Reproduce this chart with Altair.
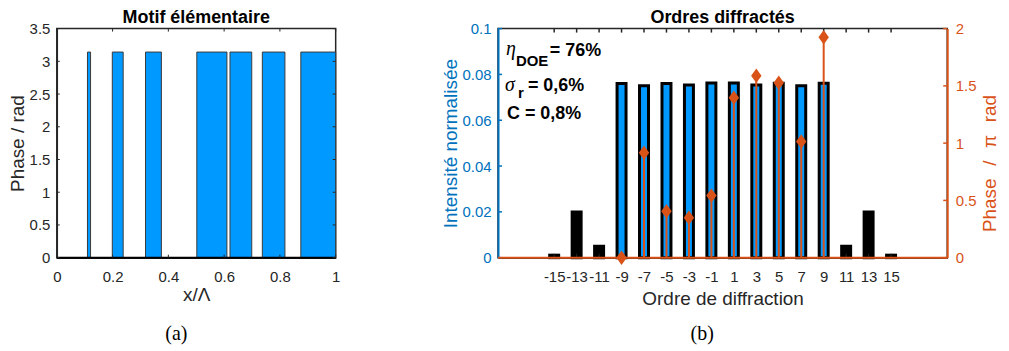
import altair as alt
import pandas as pd

# ---------- (a) Motif élémentaire ----------
seg_start = [0.110, 0.199, 0.318, 0.502, 0.621, 0.737, 0.875]
seg_end = [0.121, 0.238, 0.375, 0.610, 0.699, 0.818, 1.000]
seg_phase = [3.1416, 3.1416, 3.1416, 3.1416, 3.1416, 3.1416, 3.1416]
period_start = [0.0]
period_end = [1.0]
motif_x_ticks = [0, 0.2, 0.4, 0.6, 0.8, 1]
motif_y_ticks = [0, 0.5, 1, 1.5, 2, 2.5, 3, 3.5]

# ---------- (b) Ordres diffractés ----------
orders = [-15, -13, -11, -9, -7, -5, -3, -1, 1, 3, 5, 7, 9, 11, 13, 15]
intensity = [0.0011, 0.0199, 0.0050, 0.0760, 0.0751, 0.0760, 0.0754, 0.0763,
             0.0763, 0.0754, 0.0761, 0.0751, 0.0761, 0.0050, 0.0199, 0.0011]
phase_orders = [-9, -7, -5, -3, -1, 1, 3, 5, 7, 9]
phase_pi = [0.0, 0.916, 0.405, 0.348, 0.542, 1.397, 1.588, 1.527, 1.014, 1.924]
order_range = [-20, 20]
order_ticks = [-15, -13, -11, -9, -7, -5, -3, -1, 1, 3, 5, 7, 9, 11, 13, 15]
int_ticks = [0, 0.02, 0.04, 0.06, 0.08, 0.1]
phase_ticks = [0, 0.5, 1, 1.5, 2]

BLUE = "#0099FF"
C_INT = "#0072BD"
ORANGE = "#D95319"
AX = "#262626"
SANS = "Liberation Sans"
SERIF = "Liberation Serif"
DIAMOND = "M0,-1L0.72,0L0,1L-0.72,0Z"

# ================= panel (a) =================
W1, H1 = 280, 230
motif_df = pd.DataFrame({"x0": seg_start, "x1": seg_end, "phase": seg_phase})
motif_df["base"] = 0.0
xs1 = alt.Scale(domain=[0, 1], nice=False, zero=False)
ys1 = alt.Scale(domain=[0, 3.5], nice=False)
ax1x = alt.Axis(values=motif_x_ticks, title="x/Λ", format="~g", labelPadding=12, titlePadding=1)
ax1y = alt.Axis(values=motif_y_ticks, title="Phase / rad", format="~g", labelPadding=7, titlePadding=1.5)

bars1 = alt.Chart(motif_df).mark_rect(fill=BLUE, stroke="#3a3a3a", strokeWidth=1).encode(
    x=alt.X("x0:Q", scale=xs1, axis=ax1x), x2="x1",
    y=alt.Y("phase:Q", scale=ys1, axis=ax1y), y2="base")

zero_df = pd.DataFrame({"a": period_start, "b": period_end})
zero_df["y"] = 0.0
zero1 = alt.Chart(zero_df).mark_rule(color="black", strokeWidth=2).encode(
    x=alt.X("a:Q", scale=xs1, axis=ax1x), x2="b",
    y=alt.Y("y:Q", scale=ys1, axis=ax1y))

tx1 = pd.DataFrame({"v": motif_x_ticks})
ty1 = pd.DataFrame({"v": motif_y_ticks})
xt1b = alt.Chart(tx1).mark_rule(color=AX).encode(
    x=alt.X("v:Q", scale=xs1, axis=ax1x), y=alt.value(H1), y2=alt.value(H1 - 3))
xt1t = alt.Chart(tx1).mark_rule(color=AX).encode(
    x=alt.X("v:Q", scale=xs1, axis=ax1x), y=alt.value(0), y2=alt.value(3))
yt1l = alt.Chart(ty1).mark_rule(color=AX).encode(
    y=alt.Y("v:Q", scale=ys1, axis=ax1y), x=alt.value(0), x2=alt.value(3))
yt1r = alt.Chart(ty1).mark_rule(color=AX).encode(
    y=alt.Y("v:Q", scale=ys1, axis=ax1y), x=alt.value(W1), x2=alt.value(W1 - 3))


def txt(s, x, y, **kw):
    style = dict(font=SANS, fontSize=18, fontWeight="bold", color="black",
                 align="left", baseline="alphabetic")
    style.update(kw)
    return alt.Chart(pd.DataFrame({"t": [s]})).mark_text(**style).encode(
        text="t:N", x=alt.value(x), y=alt.value(y))


cap_a = txt("(a)", 120, 307, font=SERIF, fontSize=20, fontWeight="normal",
            align="center", baseline="middle")

left = alt.layer(bars1, zero1, xt1b, xt1t, yt1l, yt1r, cap_a).properties(
    width=W1, height=H1, title="Motif élémentaire")

# ================= panel (b) =================
W2, H2 = 451, 230
xs2 = alt.Scale(domain=order_range, nice=False, zero=False)
ys_int = alt.Scale(domain=[0, 0.1], nice=False)
ys_ph = alt.Scale(domain=[0, 2], nice=False)

ax2x = alt.Axis(values=order_ticks, labelExpr="'' + datum.value", title="Ordre de diffraction",
                labelPadding=12, titlePadding=5)
ax_int = alt.Axis(values=int_ticks, format="~g", title="Intensité normalisée", orient="left",
                  labelColor=C_INT, titleColor=C_INT, domainColor=C_INT, domainWidth=2,
                  labelPadding=7, titlePadding=1.5)
ax_ph = alt.Axis(values=phase_ticks, format="~g",
                 title="Phase\u2002\u2006/\u2002\u2006π\u2002\u2006rad", orient="right",
                 labelColor=ORANGE, titleColor=ORANGE, domainColor=ORANGE, domainWidth=2,
                 labelPadding=8, titlePadding=5, titleAngle=270, titleBaseline="top",
                 titleY=135)

int_df = pd.DataFrame({"order": orders, "I": intensity})
int_df["x0"] = int_df["order"] - 0.4
int_df["x1"] = int_df["order"] + 0.4
int_df["base"] = 0.0
int_df["kind"] = ["cible" if abs(o) <= 9 else "parasite" for o in orders]

bars2 = alt.Chart(int_df).mark_rect(stroke="black", strokeWidth=3).encode(
    x=alt.X("x0:Q", scale=xs2, axis=ax2x), x2="x1",
    y=alt.Y("I:Q", scale=ys_int, axis=ax_int), y2="base",
    fill=alt.Fill("kind:N", scale=alt.Scale(domain=["cible", "parasite"], range=[BLUE, "black"]),
                  legend=None))

tx2 = pd.DataFrame({"v": order_ticks})
ty2 = pd.DataFrame({"v": int_ticks})
ty3 = pd.DataFrame({"v": phase_ticks})
xt2b = alt.Chart(tx2).mark_rule(color=AX).encode(
    x=alt.X("v:Q", scale=xs2, axis=ax2x), y=alt.value(H2), y2=alt.value(H2 - 4))
xt2t = alt.Chart(tx2).mark_rule(color=AX, strokeWidth=1.5).encode(
    x=alt.X("v:Q", scale=xs2, axis=ax2x), y=alt.value(0), y2=alt.value(4))
yt2l = alt.Chart(ty2).mark_rule(color=C_INT, strokeWidth=1.5).encode(
    y=alt.Y("v:Q", scale=ys_int, axis=ax_int), x=alt.value(0), x2=alt.value(4))

int_group = alt.layer(bars2, xt2b, xt2t, yt2l)

ph_df = pd.DataFrame({"order": phase_orders, "p": phase_pi})
ph_df["base"] = 0.0
base_df = pd.DataFrame({"a": [order_range[0]], "b": [order_range[1]]})
base_df["y"] = 0.0

base2 = alt.Chart(base_df).mark_rule(color=ORANGE, strokeWidth=2).encode(
    x=alt.X("a:Q", scale=xs2, axis=ax2x), x2="b",
    y=alt.Y("y:Q", scale=ys_ph, axis=ax_ph))
stems = alt.Chart(ph_df).mark_rule(color=ORANGE, strokeWidth=2).encode(
    x=alt.X("order:Q", scale=xs2, axis=ax2x),
    y=alt.Y("p:Q", scale=ys_ph, axis=ax_ph), y2="base")
pts = alt.Chart(ph_df).mark_point(shape=DIAMOND, filled=True, color=ORANGE, opacity=1,
                                  size=210).encode(
    x=alt.X("order:Q", scale=xs2, axis=ax2x),
    y=alt.Y("p:Q", scale=ys_ph, axis=ax_ph))
yt2r = alt.Chart(ty3).mark_rule(color=ORANGE, strokeWidth=1.5).encode(
    y=alt.Y("v:Q", scale=ys_ph, axis=ax_ph), x=alt.value(W2), x2=alt.value(W2 - 4))

ann = [
    txt("η", 8, 27, font=SERIF, fontSize=20, fontWeight="normal", fontStyle="italic"),
    txt("DOE", 18, 38, fontSize=15),
    txt("= 76%", 52, 28),
    txt("σ", 7, 63, font=SERIF, fontSize=20, fontWeight="normal", fontStyle="italic"),
    txt("r", 20, 70, fontSize=15),
    txt("= 0,6%", 30, 63),
    txt("C = 0,8%", 9, 91),
]
cap_b = txt("(b)", 205, 307, font=SERIF, fontSize=20, fontWeight="normal",
            align="center", baseline="middle")

ph_group = alt.layer(base2, stems, pts, yt2r, *ann, cap_b)

right = alt.layer(int_group, ph_group).resolve_scale(y="independent").properties(
    width=W2, height=H2, title="Ordres diffractés")

chart = alt.hconcat(left, right, spacing=100).properties(
    padding={"left": -1, "top": -1, "right": 0, "bottom": 0}
).configure_view(stroke=AX, strokeWidth=1.5).configure_axis(
    labelFont=SANS, labelFontSize=15, labelColor=AX, titleFont=SANS, titleFontSize=19,
    titleFontWeight="normal", titleColor=AX, domainColor=AX, domainWidth=1.5, grid=False,
    ticks=False, tickSize=0, labelFlush=False, labelOverlap=False
).configure_title(font=SANS, fontSize=18, fontWeight="bold", color="black", offset=-5.5,
                  anchor="middle", frame="group")

chart.save("out.html", embed_options={"renderer": "svg", "actions": False})
